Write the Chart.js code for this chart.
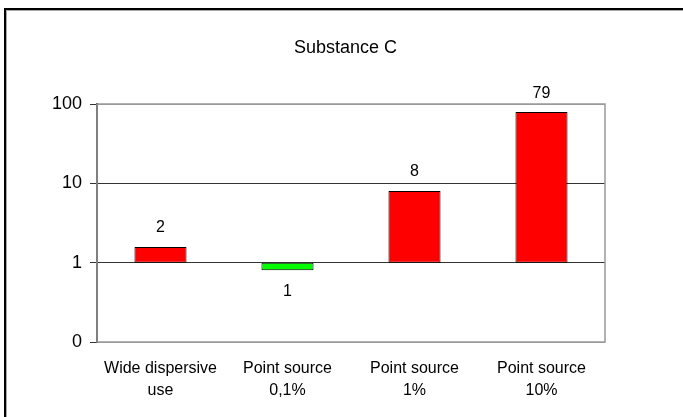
<!DOCTYPE html>
<html>
<head>
<meta charset="utf-8">
<script src="https://cdn.jsdelivr.net/npm/chart.js@4"></script>
<style>
  body { margin: 0; background: #fff; }
  #wrap { position: relative; width: 683px; height: 417px; }
  #frame {
    position: absolute; left: 4px; top: 8px; width: 700px; height: 420px;
    border-top: 2px solid #000; border-left: 2px solid #000;
    box-shadow: inset 1px 1px 0 #aaa; pointer-events: none;
  }
  canvas { position: absolute; left: 0; top: 0; }
</style>
</head>
<body>
<div id="wrap">
  <canvas id="barChart" width="683" height="417"></canvas>
  <div id="frame"></div>
</div>
<script>
// data grafik
const chartTitle = 'Substance C';
const categories = [['Wide dispersive', 'use'], ['Point source', '0,1%'], ['Point source', '1%'], ['Point source', '10%']];
const values = [1.58, 0.8, 8, 79];
const yTicks = [0.1, 1, 10, 100];
const yTickLabels = ['0', '1', '10', '100'];

const FONT = "'Liberation Sans', Arial, sans-serif";

// kotak area plot abu-abu
const plotBox = {
    id: 'plotBox',
    beforeDatasetsDraw(chart) {
        const a = chart.chartArea;
        const c = chart.ctx;
        c.save();
        c.strokeStyle = '#999';
        c.lineWidth = 1.5;
        c.strokeRect(a.left, a.top, a.right - a.left, a.bottom - a.top);
        c.restore();
    }
};

// label nilai di atas / bawah batang + judul
const valueLabels = {
    id: 'valueLabels',
    afterDatasetsDraw(chart) {
        const c = chart.ctx;
        const meta = chart.getDatasetMeta(0);
        c.save();
        c.font = '16px ' + FONT;
        c.fillStyle = '#000';
        c.textAlign = 'center';
        c.textBaseline = 'middle';
        meta.data.forEach((bar, i) => {
            const v = values[i];
            const y = v >= 1 ? Math.min(bar.y, bar.base) - 19 : Math.max(bar.y, bar.base) + 21;
            c.fillText(String(Math.round(v)), bar.x, y);
        });
        // judul di tengah bingkai
        c.font = '18px ' + FONT;
        c.fillText(chartTitle, chart.width / 2 + 4, 48);
        c.restore();
    }
};

const ctx = document.getElementById('barChart').getContext('2d');
const barChart = new Chart(ctx, {
    type: 'bar',
    data: {
        labels: categories,
        datasets: [{
            data: values.map(v => [1, v]), // batang mulai dari 1 (log)
            backgroundColor: values.map(v => v >= 1 ? '#ff0000' : '#00ff00'),
            borderColor: '#000',
            borderWidth: 1,
            borderSkipped: false,
            barPercentage: 0.41,
            categoryPercentage: 1
        }]
    },
    options: {
        responsive: false,
        animation: false,
        layout: { padding: { top: 104, right: 78, bottom: 0, left: 0 } },
        plugins: {
            legend: { display: false },
            tooltip: { enabled: false },
            title: { display: false }
        },
        scales: {
            x: {
                grid: { display: false, drawTicks: false },
                border: { display: false },
                ticks: {
                    color: '#000',
                    padding: 16,
                    maxRotation: 0,
                    autoSkip: false,
                    font: { family: FONT, size: 16, lineHeight: 1.375 }
                },
                afterFit(scale) { scale.height = 75; }
            },
            y: {
                type: 'logarithmic',
                min: 0.1,
                max: 100,
                afterBuildTicks(scale) {
                    scale.ticks = yTicks.map(v => ({ value: v }));
                },
                afterFit(scale) { scale.width = 97; },
                grid: {
                    color: c => (c.tick && (c.tick.value === 1 || c.tick.value === 10)) ? '#333' : '#999',
                    tickColor: '#333',
                    tickLength: 7,
                    lineWidth: 1
                },
                border: { display: true, color: '#333', width: 2 },
                ticks: {
                    color: '#000',
                    padding: 8,
                    font: { family: FONT, size: 18 },
                    callback: (value, index) => yTickLabels[index]
                }
            }
        }
    },
    plugins: [plotBox, valueLabels]
});
</script>
</body>
</html>
